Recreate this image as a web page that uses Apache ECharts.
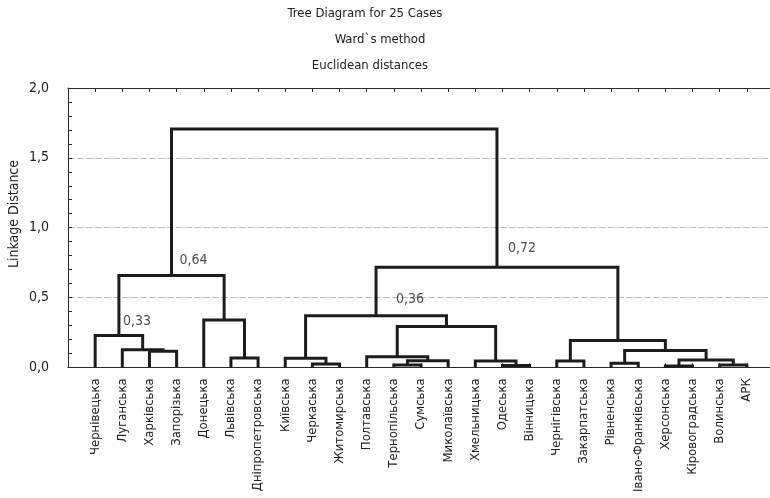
<!DOCTYPE html>
<html><head><meta charset="utf-8">
<script src="https://cdn.jsdelivr.net/npm/echarts@6/dist/echarts.min.js"></script>
<style>html,body{margin:0;padding:0;background:#fff}#c{width:770px;height:498px}</style>
</head><body><div id="c"></div>
<script>
// Leaf order along the x axis (positions 1..25)
const leaves = ['Чернівецька','Луганська','Харківська','Запорізька','Донецька','Львівська',
  'Дніпропетровська','Київська','Черкаська','Житомирська','Полтавська','Тернопільська',
  'Сумська','Миколаївська','Хмельницька','Одеська','Вінницька','Чернігівська',
  'Закарпатська','Рівненська','Івано-Франківська','Херсонська','Кіровоградська','Волинська','АРК'];
// Linkage: [childA, childB, height]; index < 25 = leaf, index >= 25 = earlier merge (25 + row)
const merges = [
  [21, 22, 0.010], // 25
  [15, 16, 0.013], // 26
  [23, 24, 0.017], // 27
  [11, 12, 0.017], // 28
  [8, 9, 0.024],   // 29
  [19, 20, 0.029], // 30
  [17, 18, 0.045], // 31
  [14, 26, 0.045], // 32
  [28, 13, 0.047], // 33
  [25, 27, 0.052], // 34
  [7, 29, 0.064],  // 35
  [5, 6, 0.066],   // 36
  [10, 33, 0.076], // 37
  [30, 34, 0.120], // 38
  [2, 3, 0.115],   // 39
  [1, 39, 0.125],  // 40
  [31, 38, 0.192], // 41
  [0, 40, 0.227],  // 42
  [37, 32, 0.292], // 43
  [4, 36, 0.339],  // 44
  [35, 43, 0.370], // 45
  [42, 44, 0.657], // 46
  [45, 41, 0.717], // 47
  [46, 47, 1.706]  // 48
];
const yTickLabels = ['0,0','0,5','1,0','1,5','2,0'];
const titleLines = ['Tree Diagram for 25 Cases', 'Ward`s method', 'Euclidean distances'];
const yAxisName = 'Linkage Distance';
// Annotated nodes: merge index -> text
const annotations = [
  {node: 46, text: '0,64'},
  {node: 47, text: '0,72'},
  {node: 45, text: '0,36'},
  {node: 42, text: '0,33'}
];
// pixel offsets of annotation text relative to the node (style only)
const annotOffsets = {46: [8, -15], 47: [11, -19], 45: [20, -16], 42: [4, -14]};

const FONT = '"DejaVu Sans Condensed","Liberation Sans Narrow",sans-serif';
const N = leaves.length;
// compute node positions
const nodeX = [], nodeY = [];
for (let i = 0; i < N; i++) { nodeX[i] = i + 1; nodeY[i] = 0; }
merges.forEach((m, k) => {
  const id = N + k;
  nodeX[id] = (nodeX[m[0]] + nodeX[m[1]]) / 2;
  nodeY[id] = m[2];
});
const linesData = merges.map(m => {
  const a = m[0], b = m[1], h = m[2];
  return {coords: [[nodeX[a], nodeY[a]], [nodeX[a], h], [nodeX[b], h], [nodeX[b], nodeY[b]]]};
});
const annotData = annotations.map(a => ({
  value: [nodeX[a.node], nodeY[a.node]],
  label: {position: annotOffsets[a.node], formatter: a.text}
}));

const chart = echarts.init(document.getElementById('c'), null, {renderer: 'canvas'});
const axisLineStyle = {color: '#2a2a2a', width: 1};
chart.setOption({
  animation: false,
  backgroundColor: '#fff',
  grid: {left: 68, top: 88, width: 706, height: 279.3, containLabel: false, outerBoundsMode: 'none'},
  xAxis: [{
    type: 'value', min: 0, max: N + 1, interval: 1, position: 'bottom',
    axisLine: {show: true, lineStyle: axisLineStyle},
    axisTick: {show: true, inside: true, length: 4, lineStyle: axisLineStyle},
    splitLine: {show: false},
    axisLabel: {rotate: 90, margin: 11, fontFamily: FONT, fontSize: 13, color: '#222',
      formatter: v => leaves[v - 1] || ''}
  }, {
    type: 'value', min: 0, max: N + 1, interval: 1, position: 'top',
    axisLine: {show: true, lineStyle: axisLineStyle},
    axisTick: {show: true, inside: true, length: 4, lineStyle: axisLineStyle},
    splitLine: {show: false}, axisLabel: {show: false}
  }],
  yAxis: {
    type: 'value', min: 0, max: 2, interval: 0.5,
    axisLine: {show: true, lineStyle: axisLineStyle},
    axisTick: {show: true, inside: true, length: 4, lineStyle: axisLineStyle},
    minorTick: {show: true, splitNumber: 5, length: 4, lineStyle: axisLineStyle},
    splitLine: {show: true, lineStyle: {color: '#b7bccb', type: [7, 2], width: 1}},
    axisLabel: {margin: 19, fontFamily: FONT, fontSize: 14, color: '#222',
      formatter: v => yTickLabels[Math.round(v / 0.5)]}
  },
  graphic: [
    {type: 'text', x: 365, y: 14, style: {text: titleLines[0], align: 'center', verticalAlign: 'middle', font: '13px ' + FONT, fill: '#222'}},
    {type: 'text', x: 380, y: 40, style: {text: titleLines[1], align: 'center', verticalAlign: 'middle', font: '13px ' + FONT, fill: '#222'}},
    {type: 'text', x: 370, y: 66, style: {text: titleLines[2], align: 'center', verticalAlign: 'middle', font: '13px ' + FONT, fill: '#222'}},
    {type: 'text', x: 14, y: 214, rotation: Math.PI / 2, style: {text: yAxisName, align: 'center', verticalAlign: 'middle', font: '14px ' + FONT, fill: '#222'}}
  ],
  series: [{
    type: 'lines', coordinateSystem: 'cartesian2d', polyline: true,
    xAxisIndex: 0, yAxisIndex: 0,
    lineStyle: {color: '#1c1c1c', width: 3, opacity: 1, join: 'miter', cap: 'butt'},
    silent: true,
    data: linesData
  }, {
    type: 'scatter', xAxisIndex: 0, yAxisIndex: 0, symbolSize: 0, silent: true,
    label: {show: true, align: 'left', verticalAlign: 'middle', fontFamily: FONT, fontSize: 14, color: '#222'},
    data: annotData
  }]
});
</script></body></html>
